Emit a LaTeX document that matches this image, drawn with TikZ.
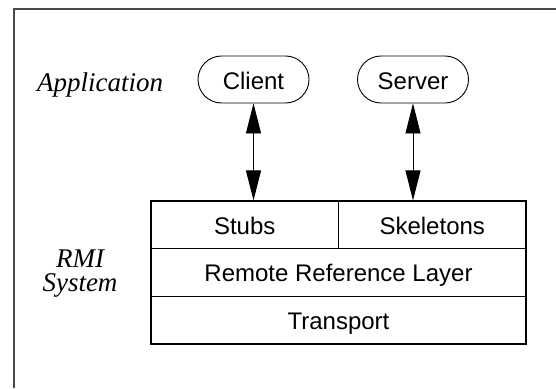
\documentclass[tikz,border=0pt]{standalone}
\usepackage{fontspec}
\setmainfont{Liberation Serif}
\setsansfont{Liberation Sans}
\usetikzlibrary{arrows.meta}
\definecolor{framegray}{HTML}{4A4A4A}
\tikzset{
  pill/.style={draw, line width=0.9pt, rounded corners=23.5pt, minimum width=111pt, minimum height=47pt, inner sep=0pt, text height=20pt, text depth=0pt, font=\sffamily\fontsize{24}{28}\selectfont},
  layer/.style={draw, line width=1.2pt, inner sep=0pt, text height=18.5pt, text depth=0pt, font=\sffamily\fontsize{24}{28}\selectfont},
  lbl/.style={font=\itshape\fontsize{27}{24}\selectfont, anchor=base, inner sep=0pt},
  link/.style={line width=0.9pt, {Triangle[length=30pt,width=15pt]}-{Triangle[length=30pt,width=15pt]}}
}
\begin{document}
\begin{tikzpicture}[x=1pt,y=-1pt]
\useasboundingbox (0,0) rectangle (556,388);
\draw[framegray, line width=2pt] (556,9) -- (13.5,9) -- (13.5,388);
\node[lbl] (app) at (100.2,91.7) {Application};
\node[pill] (client) at (253.5,79.5) {Client};
\node[pill] (server) at (413,79.5) {Server};
\node[layer, minimum width=187.5pt, minimum height=47.5pt] (stubs) at (244.75,224.75) {Stubs};
\node[layer, minimum width=187.5pt, minimum height=47.5pt] (skel) at (432.25,224.75) {Skeletons};
\node[layer, minimum width=375pt, minimum height=48pt] (rrl) at (338.5,272.5) {Remote Reference Layer};
\node[layer, minimum width=375pt, minimum height=47.5pt] (transport) at (338.5,320.25) {Transport};
\node[lbl] (rmi) at (80,267.3) {RMI};
\node[lbl] (sys) at (80,291.3) {System};
\draw[link] (client.south) -- (client.south |- stubs.north);
\draw[link] (server.south) -- (server.south |- skel.north);
\end{tikzpicture}
\end{document}
